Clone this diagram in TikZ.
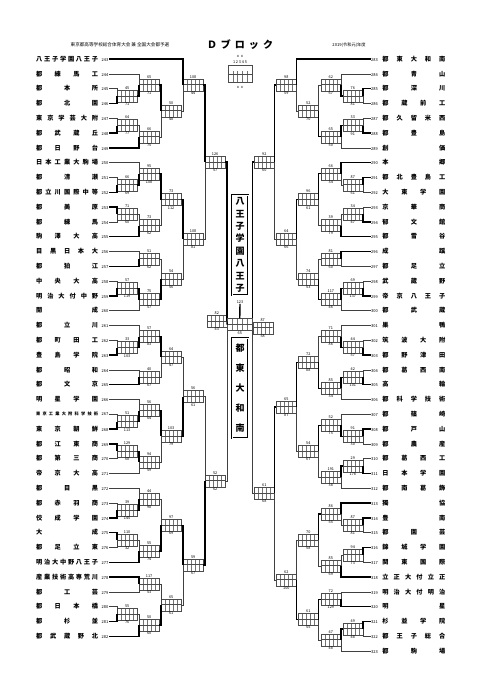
\documentclass[tikz,border=0pt]{standalone}
\usepackage{fontspec}
\setmainfont{Noto Sans CJK JP}
\usetikzlibrary{calc}
\tikzset{
  tname/.style={anchor=east,inner sep=0.5pt,font=\fontsize{6.2}{6.2}\selectfont\bfseries},
  rname/.style={anchor=west,inner sep=0.5pt,font=\fontsize{6.2}{6.2}\selectfont\bfseries},
  gbox/.style={draw=black!70,line width=0.3pt,minimum width=20pt,minimum height=12pt,inner sep=0pt,
    path picture={
      \foreach \i in {0.2,0.4,0.6,0.8}
        \draw[black!55,line width=0.25pt] ($(path picture bounding box.south west)!\i!(path picture bounding box.south east)$) -- ++(0,12pt);
      \draw[line width=1pt] (path picture bounding box.west) -- (path picture bounding box.east);}},
  lbl/.style={inner sep=0.3pt,font=\fontsize{3.8}{3.8}\selectfont},
  win/.style={line width=1.4pt},
  lose/.style={line width=0.4pt,black!75},
  vbox/.style={draw,double,line width=0.5pt,double distance=0.8pt,minimum width=16pt,align=center,inner sep=0pt}
}
\newcommand\tno[1]{{\fontsize{4}{4}\selectfont\mdseries #1}}
\newcommand\lgm[7]{%
  \coordinate (#1c) at ($(#3.east)!.5!(#4.east)$);
  \node[gbox,anchor=west] (#1) at (#2,0 |- #1c) {};
  \node[lbl,above] at (#1.north) {#5};
  \node[lbl,below] at (#1.south) {#6};
  \ifnum#7=1
    \draw[lose] (#4.east) -| (#1.west); \draw[win] (#3.east) -| (#1.west);
  \else
    \draw[lose] (#3.east) -| (#1.west); \draw[win] (#4.east) -| (#1.west);
  \fi}
\newcommand\rgm[7]{%
  \coordinate (#1c) at ($(#3.west)!.5!(#4.west)$);
  \node[gbox,anchor=east] (#1) at (#2,0 |- #1c) {};
  \node[lbl,above] at (#1.north) {#5};
  \node[lbl,below] at (#1.south) {#6};
  \ifnum#7=1
    \draw[lose] (#4.west) -| (#1.east); \draw[win] (#3.west) -| (#1.east);
  \else
    \draw[lose] (#3.west) -| (#1.east); \draw[win] (#4.west) -| (#1.east);
  \fi}

\begin{document}
\begin{tikzpicture}[x=1pt,y=-1pt]
  \fill[white] (0,0) rectangle (481,680);
  \useasboundingbox (0,0) rectangle (481,680);

  \node[font=\fontsize{4.6}{4.6}\selectfont] (hd1) at (120,45) {東京都高等学校総合体育大会\ 兼\ 全国大会都予選};
  \node[font=\fontsize{10}{10}\selectfont\bfseries] (hd2) at (240,45) {\makebox[66pt][s]{Ｄ ブ ロ ッ ク}};
  \node[font=\fontsize{4.2}{4.2}\selectfont] (hd3) at (349,45) {2019(令和元)年度};

  \node[lbl] (lgt) at (240,56) {ｘｘ};
  \node[lbl] (lgd) at (240,62) {1\ 2\ 3\ 4\ 5};
  \node[gbox,minimum width=24pt,minimum height=17pt] (lgb) at (240,74) {};
  \node[lbl] (lgu) at (240,87) {ｘｘ};

  \foreach \n/\s in {243/八 王 子 学 園 八 王 子, 244/都 練 馬 工, 245/都 本 所, 246/都 北 園,
      247/東 京 学 芸 大 附, 248/都 武 蔵 丘, 249/都 日 野 台, 250/日 本 工 業 大 駒 場,
      251/都 清 瀬, 252/都 立 川 国 際 中 等, 253/都 美 原, 254/都 練 馬, 255/駒 澤 大 高,
      256/目 黒 日 本 大, 257/都 狛 江, 258/中 央 大 高, 259/明 治 大 付 中 野, 260/開 成,
      261/都 立 川, 262/都 町 田 工, 263/豊 島 学 院, 264/都 昭 和, 265/都 文 京,
      266/明 星 学 園, 267/{\fontsize{4.2}{4.2}\selectfont 東 京 工 業 大 附 科 学 技 術},
      268/東 京 朝 鮮, 269/都 江 東 商, 270/都 第 三 商, 271/帝 京 大 高, 272/都 目 黒,
      273/都 赤 羽 商, 274/佼 成 学 園, 275/大 成, 276/都 足 立 東, 277/明 治 大 中 野 八 王 子,
      278/産 業 技 術 高 専 荒 川, 279/都 工 芸, 280/都 日 本 橋, 281/都 杉 並, 282/都 武 蔵 野 北}
    \node[tname] (t\n) at (109,{59+14.8*(\n-243)}) {\makebox[62pt][s]{\s}\hspace{3.5pt}\tno{\n}};

  \foreach \n/\s in {283/都 東 大 和 南, 284/都 青 山, 285/都 深 川, 286/都 蔵 前 工,
      287/都 久 留 米 西, 288/都 豊 島, 289/創 価, 290/本 郷, 291/都 北 豊 島 工,
      292/大 東 学 園, 293/京 華 商, 294/郁 文 館, 295/都 雪 谷, 296/成 蹊, 297/都 足 立,
      298/武 蔵 野, 299/帝 京 八 王 子, 300/都 武 蔵, 301/巣 鴨, 302/筑 波 大 附,
      303/都 野 津 田, 304/都 葛 西 南, 305/高 輪, 306/都 科 学 技 術, 307/都 篠 崎,
      308/都 戸 山, 309/都 農 産, 310/都 葛 西 工, 311/日 本 学 園, 312/都 南 葛 飾,
      313/獨 協, 314/豊 南, 315/都 園 芸, 316/錦 城 学 園, 317/関 東 国 際,
      318/立 正 大 付 立 正, 319/明 治 大 付 明 治, 320/明 星, 321/杉 並 学 院,
      322/都 王 子 総 合, 323/都 駒 場}
    \node[rname] (t\n) at (370.5,{59+14.8*(\n-283)}) {\tno{\n}\hspace{4.5pt}\makebox[63pt][s]{\s}};

  \lgm{a1}{117}{t245}{t246}{45}{71}{2}
  \lgm{a2}{139}{t244}{a1}{65}{71}{2}
  \lgm{a3}{117}{t247}{t248}{64}{77}{2}
  \lgm{a4}{139}{a3}{t249}{66}{75}{2}
  \lgm{a5}{161}{a2}{a4}{50}{48}{1}
  \lgm{a6}{183}{t243}{a5}{108}{44}{1}
  \lgm{b1}{117}{t251}{t252}{66}{69}{2}
  \lgm{b2}{139}{t250}{b1}{95}{108}{2}
  \lgm{b3}{117}{t253}{t254}{71}{60}{1}
  \lgm{b4}{139}{b3}{t255}{73}{62}{2}
  \lgm{b5}{161}{b2}{b4}{73}{112}{1}
  \lgm{b6}{139}{t256}{t257}{51}{62}{2}
  \lgm{b7}{117}{t258}{t259}{57}{119}{2}
  \lgm{b8}{139}{b7}{t260}{75}{57}{1}
  \lgm{b9}{161}{b6}{b8}{54}{56}{2}
  \lgm{b10}{183}{b5}{b9}{108}{81}{1}
  \lgm{h1}{205}{a6}{b10}{126}{57}{1}
  \lgm{c1}{117}{t262}{t263}{33}{103}{2}
  \lgm{c2}{139}{t261}{c1}{57}{83}{2}
  \lgm{c3}{139}{t264}{t265}{40}{67}{2}
  \lgm{c4}{161}{c2}{c3}{64}{47}{1}
  \lgm{c5}{117}{t267}{t268}{51}{113}{2}
  \lgm{c6}{139}{t266}{c5}{56}{64}{2}
  \lgm{c7}{117}{t269}{t270}{129}{68}{1}
  \lgm{c8}{139}{c7}{t271}{94}{59}{1}
  \lgm{c9}{161}{c6}{c8}{103}{79}{1}
  \lgm{c10}{183}{c4}{c9}{56}{61}{2}
  \lgm{d1}{117}{t273}{t274}{39}{145}{2}
  \lgm{d2}{139}{t272}{d1}{44}{98}{2}
  \lgm{d3}{117}{t275}{t276}{110}{32}{1}
  \lgm{d4}{139}{d3}{t277}{55}{74}{2}
  \lgm{d5}{161}{d2}{d4}{97}{69}{2}
  \lgm{d6}{139}{t278}{t279}{117}{53}{1}
  \lgm{d7}{117}{t280}{t281}{55}{76}{2}
  \lgm{d8}{139}{d7}{t282}{50}{60}{2}
  \lgm{d9}{161}{d6}{d8}{65}{61}{2}
  \lgm{d10}{183}{d5}{d9}{59}{67}{1}
  \lgm{h2}{205}{c10}{d10}{52}{62}{2}

  \rgm{e1}{363}{t285}{t286}{76}{81}{1}
  \rgm{e2}{341}{t284}{e1}{62}{67}{2}
  \rgm{e3}{363}{t287}{t288}{33}{91}{2}
  \rgm{e4}{341}{e3}{t289}{65}{50}{1}
  \rgm{e5}{318.5}{e2}{e4}{52}{70}{2}
  \rgm{e6}{296.5}{t283}{e5}{98}{59}{1}
  \rgm{f1}{363}{t291}{t292}{87}{61}{1}
  \rgm{f2}{341}{t290}{f1}{66}{34}{1}
  \rgm{f3}{363}{t293}{t294}{34}{47}{2}
  \rgm{f4}{341}{f3}{t295}{39}{79}{2}
  \rgm{f5}{318.5}{f2}{f4}{96}{61}{1}
  \rgm{f6}{341}{t296}{t297}{81}{60}{1}
  \rgm{f7}{363}{t298}{t299}{69}{137}{2}
  \rgm{f8}{341}{f7}{t300}{117}{46}{1}
  \rgm{f9}{318.5}{f6}{f8}{74}{53}{2}
  \rgm{f10}{296.5}{f5}{f9}{64}{66}{1}
  \rgm{h3}{274.5}{e6}{f10}{92}{60}{1}
  \rgm{g1}{363}{t302}{t303}{44}{57}{2}
  \rgm{g2}{341}{t301}{g1}{71}{86}{2}
  \rgm{g3}{363}{t304}{t305}{42}{101}{2}
  \rgm{g4}{341}{g3}{t306}{85}{34}{1}
  \rgm{g5}{318.5}{g2}{g4}{72}{88}{2}
  \rgm{g6}{363}{t308}{t309}{91}{30}{1}
  \rgm{g7}{341}{t307}{g6}{52}{75}{2}
  \rgm{g8}{363}{t310}{t311}{29}{178}{2}
  \rgm{g9}{341}{g8}{t312}{191}{38}{1}
  \rgm{g10}{318.5}{g7}{g9}{54}{67}{1}
  \rgm{g11}{296.5}{g5}{g10}{65}{87}{1}
  \rgm{k1}{363}{t314}{t315}{87}{81}{1}
  \rgm{k2}{341}{t313}{k1}{86}{55}{1}
  \rgm{k3}{363}{t316}{t317}{94}{73}{1}
  \rgm{k4}{341}{k3}{t318}{85}{69}{2}
  \rgm{k5}{318.5}{k2}{k4}{70}{58}{1}
  \rgm{k6}{341}{t319}{t320}{72}{129}{2}
  \rgm{k7}{363}{t321}{t322}{49}{48}{1}
  \rgm{k8}{341}{k7}{t323}{47}{48}{1}
  \rgm{k9}{318.5}{k6}{k8}{61}{55}{1}
  \rgm{k10}{296.5}{k5}{k9}{62}{100}{2}
  \rgm{h4}{274.5}{g11}{k10}{61}{68}{1}

  \coordinate (lfc) at ($(h1.east)!.5!(h2.east)$);
  \node[gbox,anchor=east] (lf) at (227,0 |- lfc) {};
  \node[lbl,above] at (lf.north) {82};
  \node[lbl,below] at (lf.south) {43};
  \draw[lose] (h2.east) -| (lf.east);
  \draw[win] (h1.east) -| (lf.east);

  \coordinate (rfc) at ($(h3.west)!.5!(h4.west)$);
  \node[gbox,anchor=west] (rf) at (252.5,0 |- rfc) {};
  \node[lbl,above] at (rf.north) {87};
  \node[lbl,below] at (rf.south) {58};
  \draw[lose] (h4.west) -| (rf.west);
  \draw[win] (h3.west) -| (rf.west);

  \coordinate (finc) at ($(lf.east)!.5!(rf.west)$);
  \node[gbox,minimum width=25pt] (fin) at (finc) {};
  \node[lbl] (fint) at (240,302) {123};
  \node[lbl,below] at (fin.south) {65};
  \draw[win] (lf.east) -- (fin.west);
  \draw[lose] (rf.west) -- (fin.east);
  \draw[win] (fin.north) -- (fint.south);

  \node[vbox,minimum height=100pt,font=\fontsize{9}{12.4}\selectfont\bfseries] (champ) at (240,245) {八\\王\\子\\学\\園\\八\\王\\子};
  \node[vbox,minimum height=100pt,font=\fontsize{9}{20}\selectfont\bfseries] (second) at (240,388) {都\\東\\大\\和\\南};
\end{tikzpicture}
\end{document}
